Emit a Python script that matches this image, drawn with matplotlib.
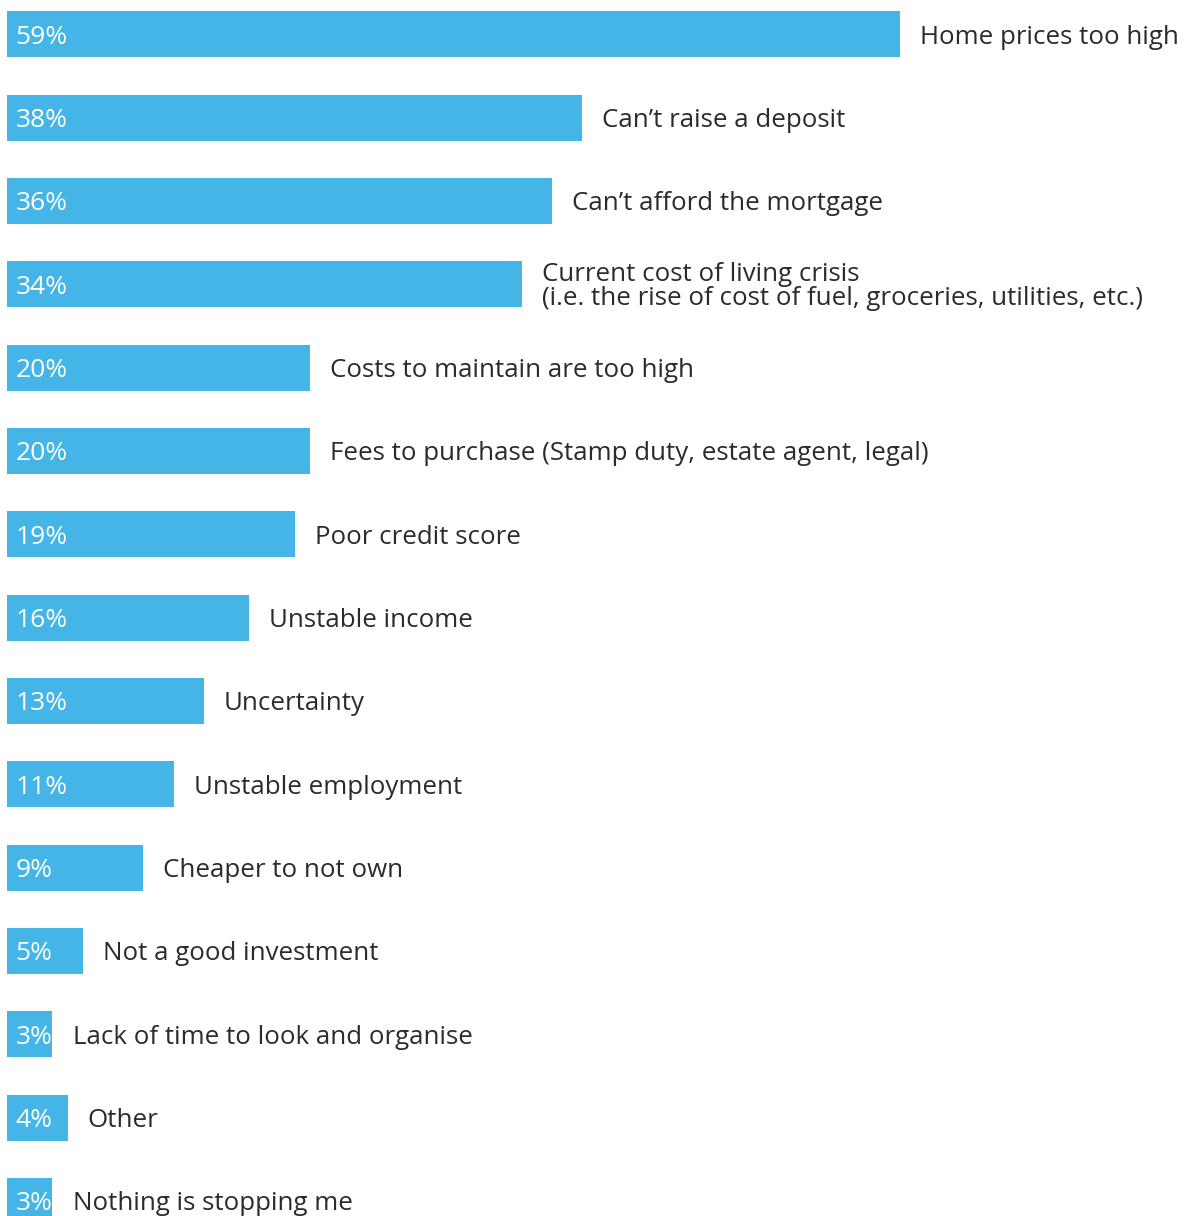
import matplotlib
matplotlib.use('Agg')
import matplotlib.pyplot as plt

plt.rcParams['font.family'] = ['Open Sans', 'DejaVu Sans']

# reasons given, top to bottom
reasons = [
    'Home prices too high',
    'Can\u2019t raise a deposit',
    'Can\u2019t afford the mortgage',
    'Current cost of living crisis\n(i.e. the rise of cost of fuel, groceries, utilities, etc.)',
    'Costs to maintain are too high',
    'Fees to purchase (Stamp duty, estate agent, legal)',
    'Poor credit score',
    'Unstable income',
    'Uncertainty',
    'Unstable employment',
    'Cheaper to not own',
    'Not a good investment',
    'Lack of time to look and organise',
    'Other',
    'Nothing is stopping me',
]
shares = [59, 38, 36, 34, 20, 20, 19, 16, 13, 11, 9, 5, 3, 4, 3]

bar_color = '#45b4e6'
text_color = '#2b2b2b'

fig = plt.figure(figsize=(11.87, 12.16), dpi=100)
ax = fig.add_axes([0, 0, 1, 1])

px_per_unit = 15.14
ax.set_xlim(-7 / px_per_unit, (1187 - 7) / px_per_unit)
step = 83.33
ax.set_ylim((1216 - 34.3) / step, -34.3 / step)

ypos = list(range(len(shares)))
ax.barh(ypos, shares, height=46 / step, color=bar_color, left=0)

for y, v, name in zip(ypos, shares, reasons):
    ax.annotate(f'{v}%', xy=(0, y), xytext=(6, 0), textcoords='offset points',
                ha='left', va='center_baseline', color='white', fontsize=19)
    ax.annotate(name, xy=(v, y), xytext=(14.5, 0), textcoords='offset points',
                ha='left', va='center_baseline', color=text_color, fontsize=18.6,
                linespacing=0.95)

ax.axis('off')
fig.savefig('out.png', dpi=100, facecolor='white')
